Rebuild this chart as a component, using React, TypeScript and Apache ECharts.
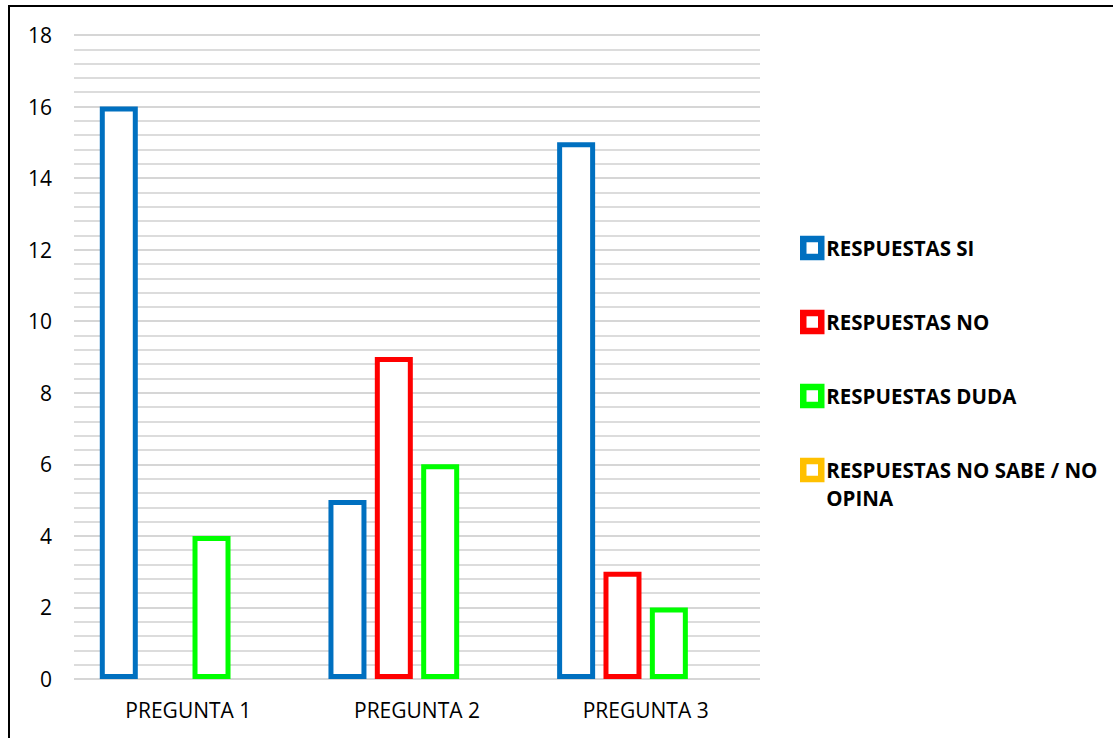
import React, { useEffect, useRef } from "react";
import * as echarts from "echarts";

const categories = ["PREGUNTA 1", "PREGUNTA 2", "PREGUNTA 3"];
const seriesNames = [
  "RESPUESTAS SI",
  "RESPUESTAS NO",
  "RESPUESTAS DUDA",
  "RESPUESTAS NO SABE / NO OPINA",
];
const respuestasSi = [16, 5, 15];
const respuestasNo = [0, 9, 3];
const respuestasDuda = [4, 6, 2];
const respuestasNoSabe = [0, 0, 0];
const seriesColors = ["#0070C0", "#FF0000", "#00FF00", "#FFC000"];
const yTicks = [0, 2, 4, 6, 8, 10, 12, 14, 16, 18];

const FONT = "'Open Sans', sans-serif";

export default function App() {
  const ref = useRef<HTMLDivElement>(null);
  useEffect(() => {
    if (!ref.current) return;
    const chart = echarts.init(ref.current, null, { renderer: "svg" });
    const allData = [respuestasSi, respuestasNo, respuestasDuda, respuestasNoSabe];
    const series = seriesNames.map((name, i) => ({
      name,
      type: "bar",
      barWidth: 38,
      barGap: "22%",
      data: allData[i].map((v) => (v === 0 ? "-" : v)),
      itemStyle: { color: "#ffffff", borderColor: seriesColors[i], borderWidth: 5 },
      emphasis: { disabled: true },
    }));
    const legendText = {
      fontFamily: FONT,
      fontWeight: "bold",
      fontSize: 20.5,
      color: "#000000",
      lineHeight: 28,
    };
    const legendCommon = {
      orient: "vertical",
      left: 795,
      icon: "rect",
      itemWidth: 18,
      itemHeight: 18,
      itemGap: 46,
      itemStyle: { borderWidth: 6.5 },
      selectedMode: false,
      textStyle: legendText,
    };
    chart.setOption({
      animation: false,
      backgroundColor: "#ffffff",
      grid: { left: 74, right: 353, top: 35, bottom: 59, containLabel: false },
      legend: [
        { ...legendCommon, top: 229, data: seriesNames.slice(0, 3) },
        {
          ...legendCommon,
          top: 423,
          data: seriesNames.slice(3),
          formatter: () => " \nRESPUESTAS NO SABE / NO\nOPINA",
        },
      ],
      xAxis: {
        type: "category",
        data: categories,
        axisLine: { show: false },
        axisTick: { show: false },
        axisLabel: {
          fontFamily: FONT,
          fontSize: 21,
          color: "#000000",
          margin: 20,
        },
      },
      yAxis: {
        type: "value",
        min: yTicks[0],
        max: yTicks[yTicks.length - 1],
        interval: 2,
        axisLine: { show: false },
        axisTick: { show: false },
        axisLabel: {
          fontFamily: FONT,
          fontSize: 21,
          color: "#000000",
          margin: 22,
        },
        splitLine: { show: true, lineStyle: { color: "#c8c8c8", width: 1.5 } },
        minorTick: { show: false, splitNumber: 5 },
        minorSplitLine: { show: true, lineStyle: { color: "#d0d0d0", width: 1.5 } },
      },
      series,
    });
    return () => chart.dispose();
  }, []);
  return (
    <div style={{ position: "absolute", left: 0, top: 0, width: 1113, height: 738, background: "#fff", overflow: "hidden" }}>
      <div ref={ref} style={{ position: "absolute", left: 0, top: 0, width: 1113, height: 738 }} />
      <div
        style={{
          position: "absolute",
          left: 8,
          top: 5,
          width: 1200,
          height: 800,
          borderLeft: "2px solid #000",
          borderTop: "2px solid #000",
          pointerEvents: "none",
        }}
      />
    </div>
  );
}
